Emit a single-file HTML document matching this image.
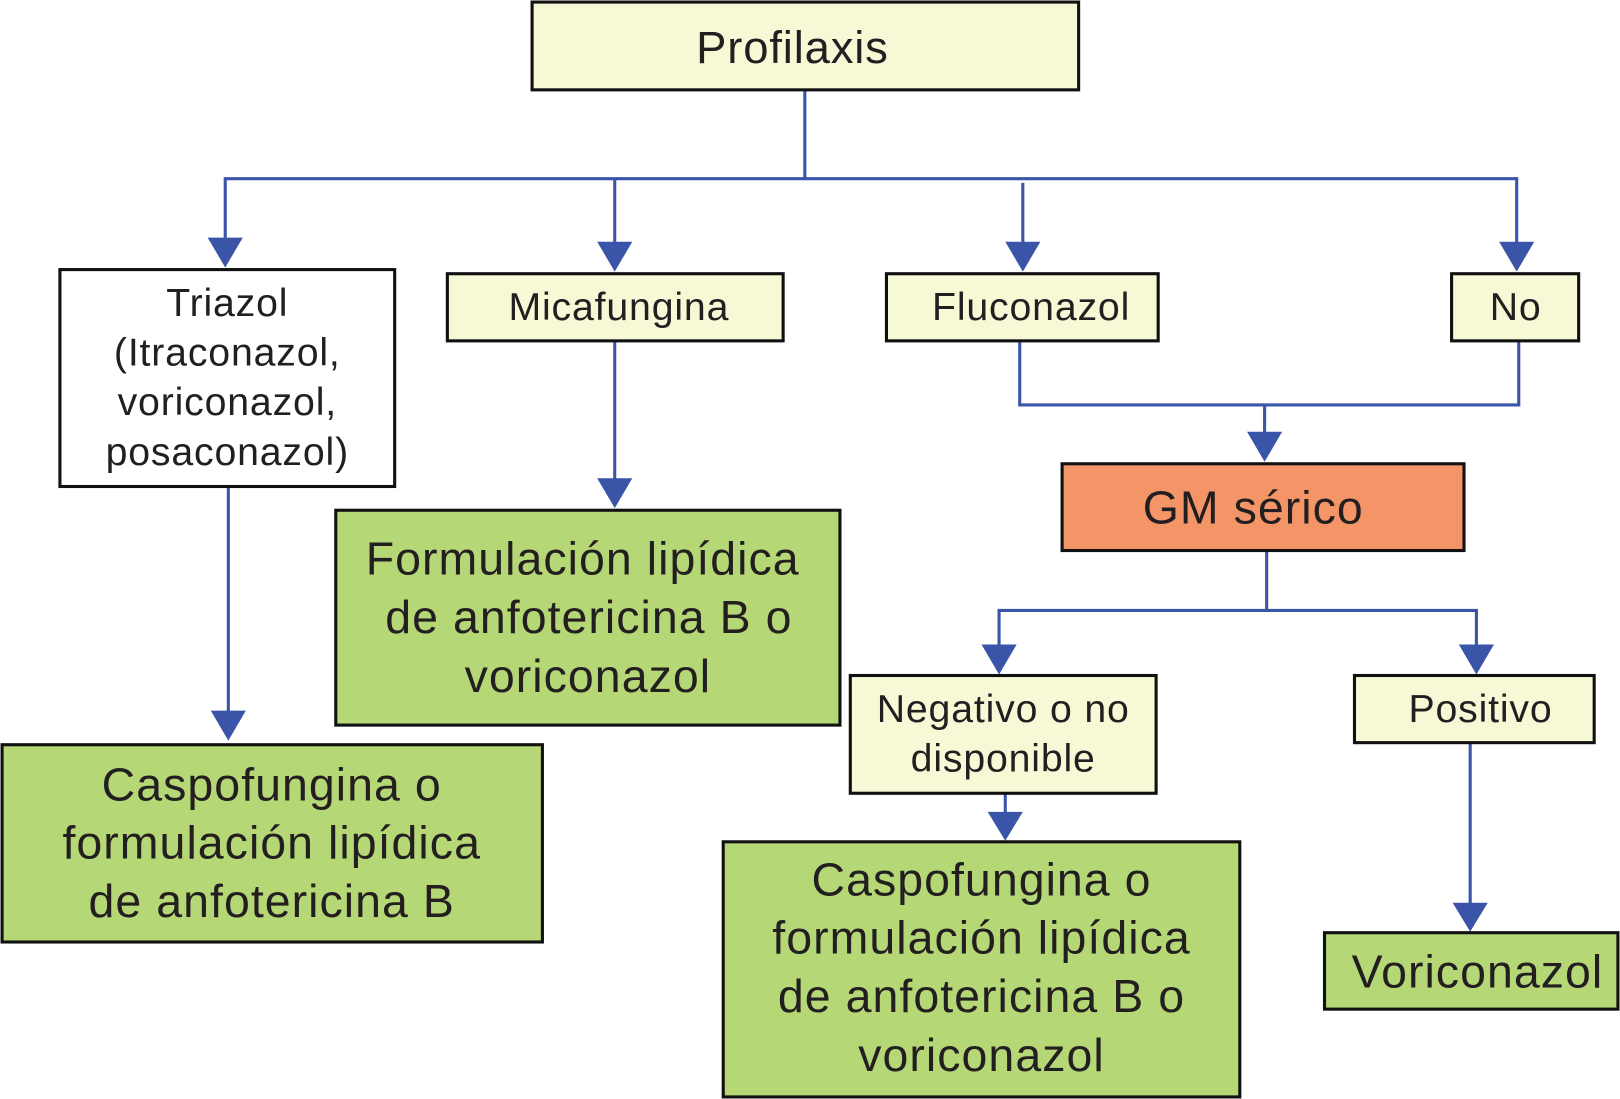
<!DOCTYPE html>
<html><head><meta charset="utf-8"><style>
html,body{margin:0;padding:0;background:#fff;width:1620px;height:1099px;overflow:hidden}
svg{display:block}
text{font-family:"Liberation Sans",sans-serif;fill:#231f20;text-anchor:middle}
</style></head><body>
<svg width="1620" height="1099" viewBox="0 0 1568 1064" preserveAspectRatio="none">
<g stroke="#3a55a8" stroke-width="3" fill="none">
<polyline points="779,87 779,173"/>
<polyline points="218,232 218,173 1468,173 1468,236"/>
<polyline points="595,173 595,236"/>
<polyline points="990,177 990,236"/>
<polyline points="595,330 595,465"/>
<polyline points="221,471 221,690"/>
<polyline points="987,330 987,392 1470,392 1470,330"/>
<polyline points="1224,392 1224,420"/>
<polyline points="1226,533 1226,591"/>
<polyline points="967,626 967,591 1429,591 1429,626"/>
<polyline points="973,768 973,788"/>
<polyline points="1423,719 1423,876"/>
</g>
<g fill="#3a55a8">
<polygon points="201,230 235,230 218,259"/>
<polygon points="578,234 612,234 595,263"/>
<polygon points="973,234 1007,234 990,263"/>
<polygon points="1451,234 1485,234 1468,263"/>
<polygon points="578,463 612,463 595,492"/>
<polygon points="204,688 238,688 221,717"/>
<polygon points="1207,418 1241,418 1224,447"/>
<polygon points="950,624 984,624 967,653"/>
<polygon points="1412,624 1446,624 1429,653"/>
<polygon points="956,786 990,786 973,814"/>
<polygon points="1406,874 1440,874 1423,902"/>
</g>
<g stroke="#111" stroke-width="3">
<rect x="515" y="2" width="529" height="85" fill="#f7f9d6"/>
<rect x="58" y="261" width="324" height="210" fill="#fff"/>
<rect x="433" y="265" width="325" height="65" fill="#f7f9d6"/>
<rect x="858" y="265" width="263" height="65" fill="#f7f9d6"/>
<rect x="1405" y="265" width="123" height="65" fill="#f7f9d6"/>
<rect x="325" y="494" width="488" height="208" fill="#b5d775"/>
<rect x="2" y="721" width="523" height="191" fill="#b5d775"/>
<rect x="1028" y="449" width="389" height="84" fill="#f49568"/>
<rect x="823" y="654" width="296" height="114" fill="#f7f9d6"/>
<rect x="1311" y="654" width="232" height="65" fill="#f7f9d6"/>
<rect x="700" y="815" width="500" height="247" fill="#b5d775"/>
<rect x="1282" y="903" width="284" height="74" fill="#b5d775"/>
</g>
<text x="767" y="61" font-size="44" letter-spacing="0.8">Profilaxis</text>
<g font-size="38" letter-spacing="0.8">
<text x="220" y="306">Triazol</text>
<text x="220" y="354">(Itraconazol,</text>
<text x="220" y="402">voriconazol,</text>
<text x="220" y="450">posaconazol)</text>
<text x="599" y="310">Micafungina</text>
<text x="998" y="310">Fluconazol</text>
<text x="1467" y="310">No</text>
<text x="971" y="699">Negativo o no</text>
<text x="971" y="747">disponible</text>
<text x="1433" y="699">Positivo</text>
</g>
<g font-size="45" letter-spacing="1">
<text x="564" y="556">Formulación lipídica</text>
<text x="570" y="613">de anfotericina B o</text>
<text x="569" y="670">voriconazol</text>
<text x="263" y="775">Caspofungina o</text>
<text x="263" y="831">formulación lipídica</text>
<text x="263" y="888">de anfotericina B</text>
<text x="1213" y="507">GM sérico</text>
<text x="950" y="867">Caspofungina o</text>
<text x="950" y="923">formulación lipídica</text>
<text x="950" y="980">de anfotericina B o</text>
<text x="950" y="1037">voriconazol</text>
<text x="1430" y="956">Voriconazol</text>
</g>
</svg>
</body></html>
